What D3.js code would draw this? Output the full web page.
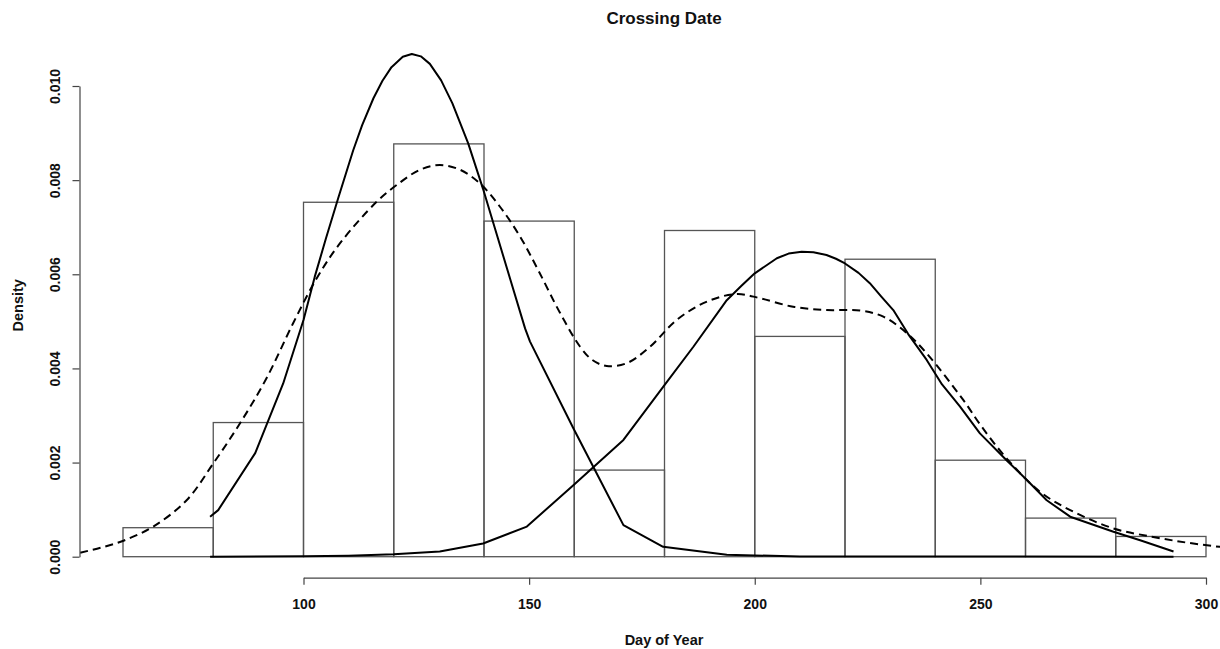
<!DOCTYPE html>
<html>
<head>
<meta charset="utf-8">
<script src="https://cdn.jsdelivr.net/npm/d3@7"></script>
<style>
  html, body { margin: 0; padding: 0; background: #fff; }
  svg { display: block; }
  text { font-family: "Liberation Sans", Arial, Helvetica, sans-serif; }
</style>
</head>
<body>
<svg id="chart" width="1220" height="649"></svg>
<script>
// ---------- data ----------
const title = "Crossing Date";
const xLabel = "Day of Year";
const yLabel = "Density";
const xTicks = [100, 150, 200, 250, 300];
const yTicks = [0, 0.002, 0.004, 0.006, 0.008, 0.010];

// histogram bins (20-day wide)
const binStarts = [60, 80, 100, 120, 140, 160, 180, 200, 220, 240, 260, 280];
const binWidth = 20;
const binDensity = [0.000616, 0.00285, 0.00753, 0.00877, 0.00713, 0.00184,
                    0.00693, 0.00468, 0.00632, 0.00205, 0.00082, 0.00043];

// first mixture component (solid)
const comp1Day = [79.3, 81.1, 89.3, 95.5, 100, 102.5, 105, 107.7, 111, 113, 115.5, 117.5, 119.5, 122, 124,
                  126, 128, 130.5, 133, 136.5, 139.8, 142.5, 145.8, 149.1, 150.2, 159.8, 170.9, 179.7,
                  193.8, 210, 292.8];
const comp1Dens = [0.00085, 0.00099, 0.0022, 0.00368, 0.00503, 0.00595, 0.00677, 0.00762, 0.00863, 0.00917,
                   0.00974, 0.01011, 0.0104, 0.01062, 0.01068, 0.01063, 0.01047, 0.01012, 0.00963, 0.00878,
                   0.00781, 0.00695, 0.0059, 0.00485, 0.00457, 0.00273, 0.00067, 0.00021, 0.00004,
                   0.000005, 0];

// second mixture component (solid)
const comp2Day = [79.3, 100, 110, 120, 130.2, 139.8, 149.5, 159.8, 170.9, 179.7, 186.4, 193.8, 197, 200,
                  204.9, 207.5, 210.4, 213, 215.9, 218, 220, 223, 225.5, 228, 230.7, 234, 238.1, 241.5,
                  245.5, 249.9, 255.8, 260.3, 264.7, 269.9, 279.5, 285.4, 292.8];
const comp2Dens = [0, 0.00001, 0.00002, 0.00005, 0.00011, 0.00028, 0.00064, 0.00152, 0.00248, 0.00361,
                   0.00446, 0.00545, 0.00575, 0.00602, 0.00634, 0.00644, 0.00648, 0.00647, 0.00641, 0.00633,
                   0.00623, 0.00603, 0.00581, 0.00553, 0.00524, 0.00473, 0.00418, 0.00366, 0.00319,
                   0.00262, 0.00205, 0.00163, 0.0012, 0.00085, 0.00053, 0.00035, 0.00011];

// kernel density estimate (dashed)
const kdeDay = [50.5, 55, 60.1, 66.7, 74.1, 80, 85.9, 91.8, 97.7, 102.9, 108.1, 116.2, 120.7, 125.8, 130.2,
                134.7, 139.1, 143.5, 148, 152, 156.9, 161.3, 164, 167.2, 171.6, 176.8, 182.7, 189.4, 196,
                201.2, 208.5, 215.9, 223.3, 228.5, 233.7, 238.1, 246.2, 250, 255.8, 263.2, 269.9, 279.5,
                288.3, 295.7, 303, 309];
const kdeDens = [0.000085, 0.00019, 0.00034, 0.00064, 0.0012, 0.00198, 0.00283, 0.00379, 0.00496, 0.00591,
                 0.00666, 0.00754, 0.0079, 0.00822, 0.00832, 0.00822, 0.00793, 0.00744, 0.0068, 0.00609,
                 0.00517, 0.00446, 0.00418, 0.00405, 0.00411, 0.00446, 0.00503, 0.00542, 0.00558, 0.00549,
                 0.00531, 0.00524, 0.00523, 0.0051, 0.00475, 0.00432, 0.00333, 0.0028, 0.00209, 0.00138,
                 0.00099, 0.0006, 0.00042, 0.0003, 0.00021, 0.00015];

// ---------- drawing ----------
const svg = d3.select("#chart");
const x = d3.scaleLinear().domain([100, 300]).range([303.5, 1206]);
const y = d3.scaleLinear().domain([0, 0.010]).range([556.7, 86]);

// plot region clip (R plot region)
svg.append("defs").append("clipPath").attr("id", "plotClip")
  .append("rect")
  .attr("x", x(50.47)).attr("y", y(0.01111))
  .attr("width", x(309.5) - x(50.47)).attr("height", y(-0.000427) - y(0.01111));

const plot = svg.append("g").attr("clip-path", "url(#plotClip)");

// histogram bars
plot.selectAll("rect.bar")
  .data(binStarts.map((s, i) => ({ s, d: binDensity[i] })))
  .enter().append("rect")
  .attr("class", "bar")
  .attr("x", d => x(d.s))
  .attr("y", d => y(d.d))
  .attr("width", d => x(d.s + binWidth) - x(d.s))
  .attr("height", d => y(0) - y(d.d))
  .attr("fill", "none")
  .attr("stroke", "#555")
  .attr("stroke-width", 1.3);

const lineGen = d3.line().x(d => x(d[0])).y(d => y(d[1]));
const smoothGen = d3.line().x(d => x(d[0])).y(d => y(d[1])).curve(d3.curveCatmullRom.alpha(0.5));

plot.append("path")
  .datum(comp1Day.map((d, i) => [d, comp1Dens[i]]))
  .attr("d", lineGen)
  .attr("fill", "none").attr("stroke", "#000").attr("stroke-width", 2)
  .attr("stroke-linejoin", "round");

plot.append("path")
  .datum(comp2Day.map((d, i) => [d, comp2Dens[i]]))
  .attr("d", lineGen)
  .attr("fill", "none").attr("stroke", "#000").attr("stroke-width", 2)
  .attr("stroke-linejoin", "round");

plot.append("path")
  .datum(kdeDay.map((d, i) => [d, kdeDens[i]]))
  .attr("d", smoothGen)
  .attr("fill", "none").attr("stroke", "#000").attr("stroke-width", 2)
  .attr("stroke-dasharray", "8,5");

// x axis
const xAxis = svg.append("g")
  .attr("transform", "translate(0,577.7)")
  .call(d3.axisBottom(x).tickValues(xTicks).tickSize(7).tickSizeOuter(0).tickPadding(14));
xAxis.select(".domain").attr("stroke", "#444").attr("stroke-width", 1.2);
xAxis.selectAll(".tick line").attr("stroke", "#444").attr("stroke-width", 1.2);
xAxis.selectAll(".tick text")
  .attr("fill", "#111")
  .style("font-family", '"Liberation Sans", Arial, sans-serif')
  .style("font-size", "14px").style("font-weight", "bold");

// y axis
const yAxis = svg.append("g")
  .attr("transform", "translate(79.5,0)")
  .call(d3.axisLeft(y).tickValues(yTicks).tickFormat(d3.format(".3f")).tickSize(7).tickSizeOuter(0));
yAxis.select(".domain").attr("stroke", "#444").attr("stroke-width", 1.2);
yAxis.selectAll(".tick line").attr("stroke", "#444").attr("stroke-width", 1.2);
yAxis.selectAll(".tick text")
  .attr("x", 0).attr("y", -19.5).attr("dy", 0)
  .attr("transform", "rotate(-90)")
  .attr("text-anchor", "middle")
  .attr("fill", "#111")
  .style("font-family", '"Liberation Sans", Arial, sans-serif')
  .style("font-size", "14px").style("font-weight", "bold");

// labels
svg.append("text")
  .attr("x", 664).attr("y", 24)
  .attr("text-anchor", "middle")
  .style("font-size", "17px").style("font-weight", "bold").attr("fill", "#111")
  .text(title);

svg.append("text")
  .attr("x", 664).attr("y", 645)
  .attr("text-anchor", "middle")
  .style("font-size", "14.5px").style("font-weight", "bold").attr("fill", "#111")
  .text(xLabel);

svg.append("text")
  .attr("transform", "translate(23,305.3) rotate(-90)")
  .attr("text-anchor", "middle")
  .style("font-size", "14.5px").style("font-weight", "bold").attr("fill", "#111")
  .text(yLabel);
</script>
</body>
</html>
